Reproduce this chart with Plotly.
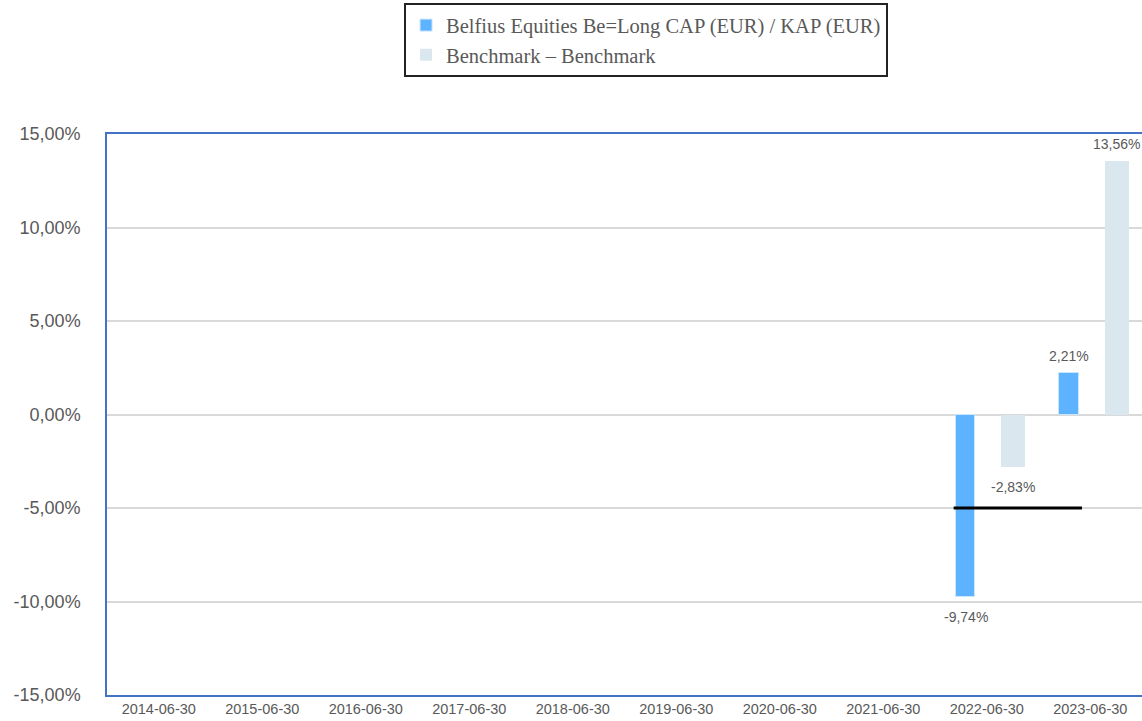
import plotly.graph_objects as go

# --- data ---
years = ["2014-06-30", "2015-06-30", "2016-06-30", "2017-06-30", "2018-06-30",
         "2019-06-30", "2020-06-30", "2021-06-30", "2022-06-30", "2023-06-30"]
fund_returns = [None, None, None, None, None, None, None, None, -9.74, 2.21]
bench_returns = [None, None, None, None, None, None, None, None, -2.83, 13.56]
fund_name = "Belfius Equities Be=Long CAP (EUR) / KAP (EUR)"
bench_name = "Benchmark – Benchmark"
y_ticks = [-15, -10, -5, 0, 5, 10, 15]
ref_level = -5.0

GREY = "#595959"
CAT_PX = 103.5  # pixel width of one category slot

# bar geometry in category units: (width, offset)
FUND_W, FUND_OFF = 0.19, -0.30
BENCH_W, BENCH_OFF = 0.23, 0.14


def pct(v):
    # european style percentage, plain hyphen for negatives
    return "" if v is None else f"{v:.2f}%".replace(".", ",")


fig = go.Figure()
fig.add_trace(go.Bar(
    x=years, y=fund_returns, name=fund_name,
    marker=dict(color="#5DB3FF", line=dict(color="#C9E6FF", width=1)),
    width=FUND_W, offset=FUND_OFF,
))
fig.add_trace(go.Bar(
    x=years, y=bench_returns, name=bench_name,
    marker=dict(color="#DAE7EE", line=dict(width=0)),
    width=BENCH_W, offset=BENCH_OFF,
))

# value labels above / below each bar
for vals, w, off in [(fund_returns, FUND_W, FUND_OFF), (bench_returns, BENCH_W, BENCH_OFF)]:
    for yr, v in zip(years, vals):
        if v is None:
            continue
        fig.add_annotation(
            x=yr, y=v, xref="x", yref="y", text=pct(v), showarrow=False,
            xshift=(off + w / 2) * CAT_PX,
            yanchor="bottom" if v >= 0 else "top",
            yshift=7 if v >= 0 else -10,
            font=dict(size=14, color=GREY, family="Liberation Sans"),
        )

# black reference line across the last two periods
fig.add_shape(type="line", xref="x", yref="y",
              x0=years.index("2022-06-30") - 0.32, x1=years.index("2023-06-30") - 0.08,
              y0=ref_level, y1=ref_level, line=dict(color="black", width=3))

fig.update_layout(
    width=1142, height=721,
    margin=dict(l=107, r=0, t=134, b=26),
    paper_bgcolor="white", plot_bgcolor="white",
    showlegend=True,
    legend=dict(
        x=0.287, y=1.233, xanchor="left", yanchor="top",
        orientation="v", traceorder="normal",
        font=dict(family="Liberation Serif", size=20.5, color=GREY),
        bordercolor="#222222", borderwidth=2, bgcolor="white",
        tracegroupgap=0,
    ),
    bargap=0.0,
)
fig.update_xaxes(
    type="category", range=[-0.5, 9.5],
    showline=True, linecolor="#4472C4", linewidth=1.5, mirror=True,
    showgrid=False, ticks="",
    tickfont=dict(size=14.5, color=GREY, family="Liberation Sans"),
)
fig.update_yaxes(
    range=[-15, 15],
    tickvals=y_ticks, ticktext=[pct(float(v)) for v in y_ticks],
    showline=True, linecolor="#4472C4", linewidth=1.5,
    showgrid=True, gridcolor="#D9D9D9", gridwidth=1.5,
    zeroline=True, zerolinecolor="#D9D9D9", zerolinewidth=1.5,
    ticks="", ticklabelstandoff=21,
    tickfont=dict(size=18, color=GREY, family="Liberation Sans"),
)

fig.write_html("out.html", config={"displayModeBar": False},
               post_script="document.body.style.margin='0';")
